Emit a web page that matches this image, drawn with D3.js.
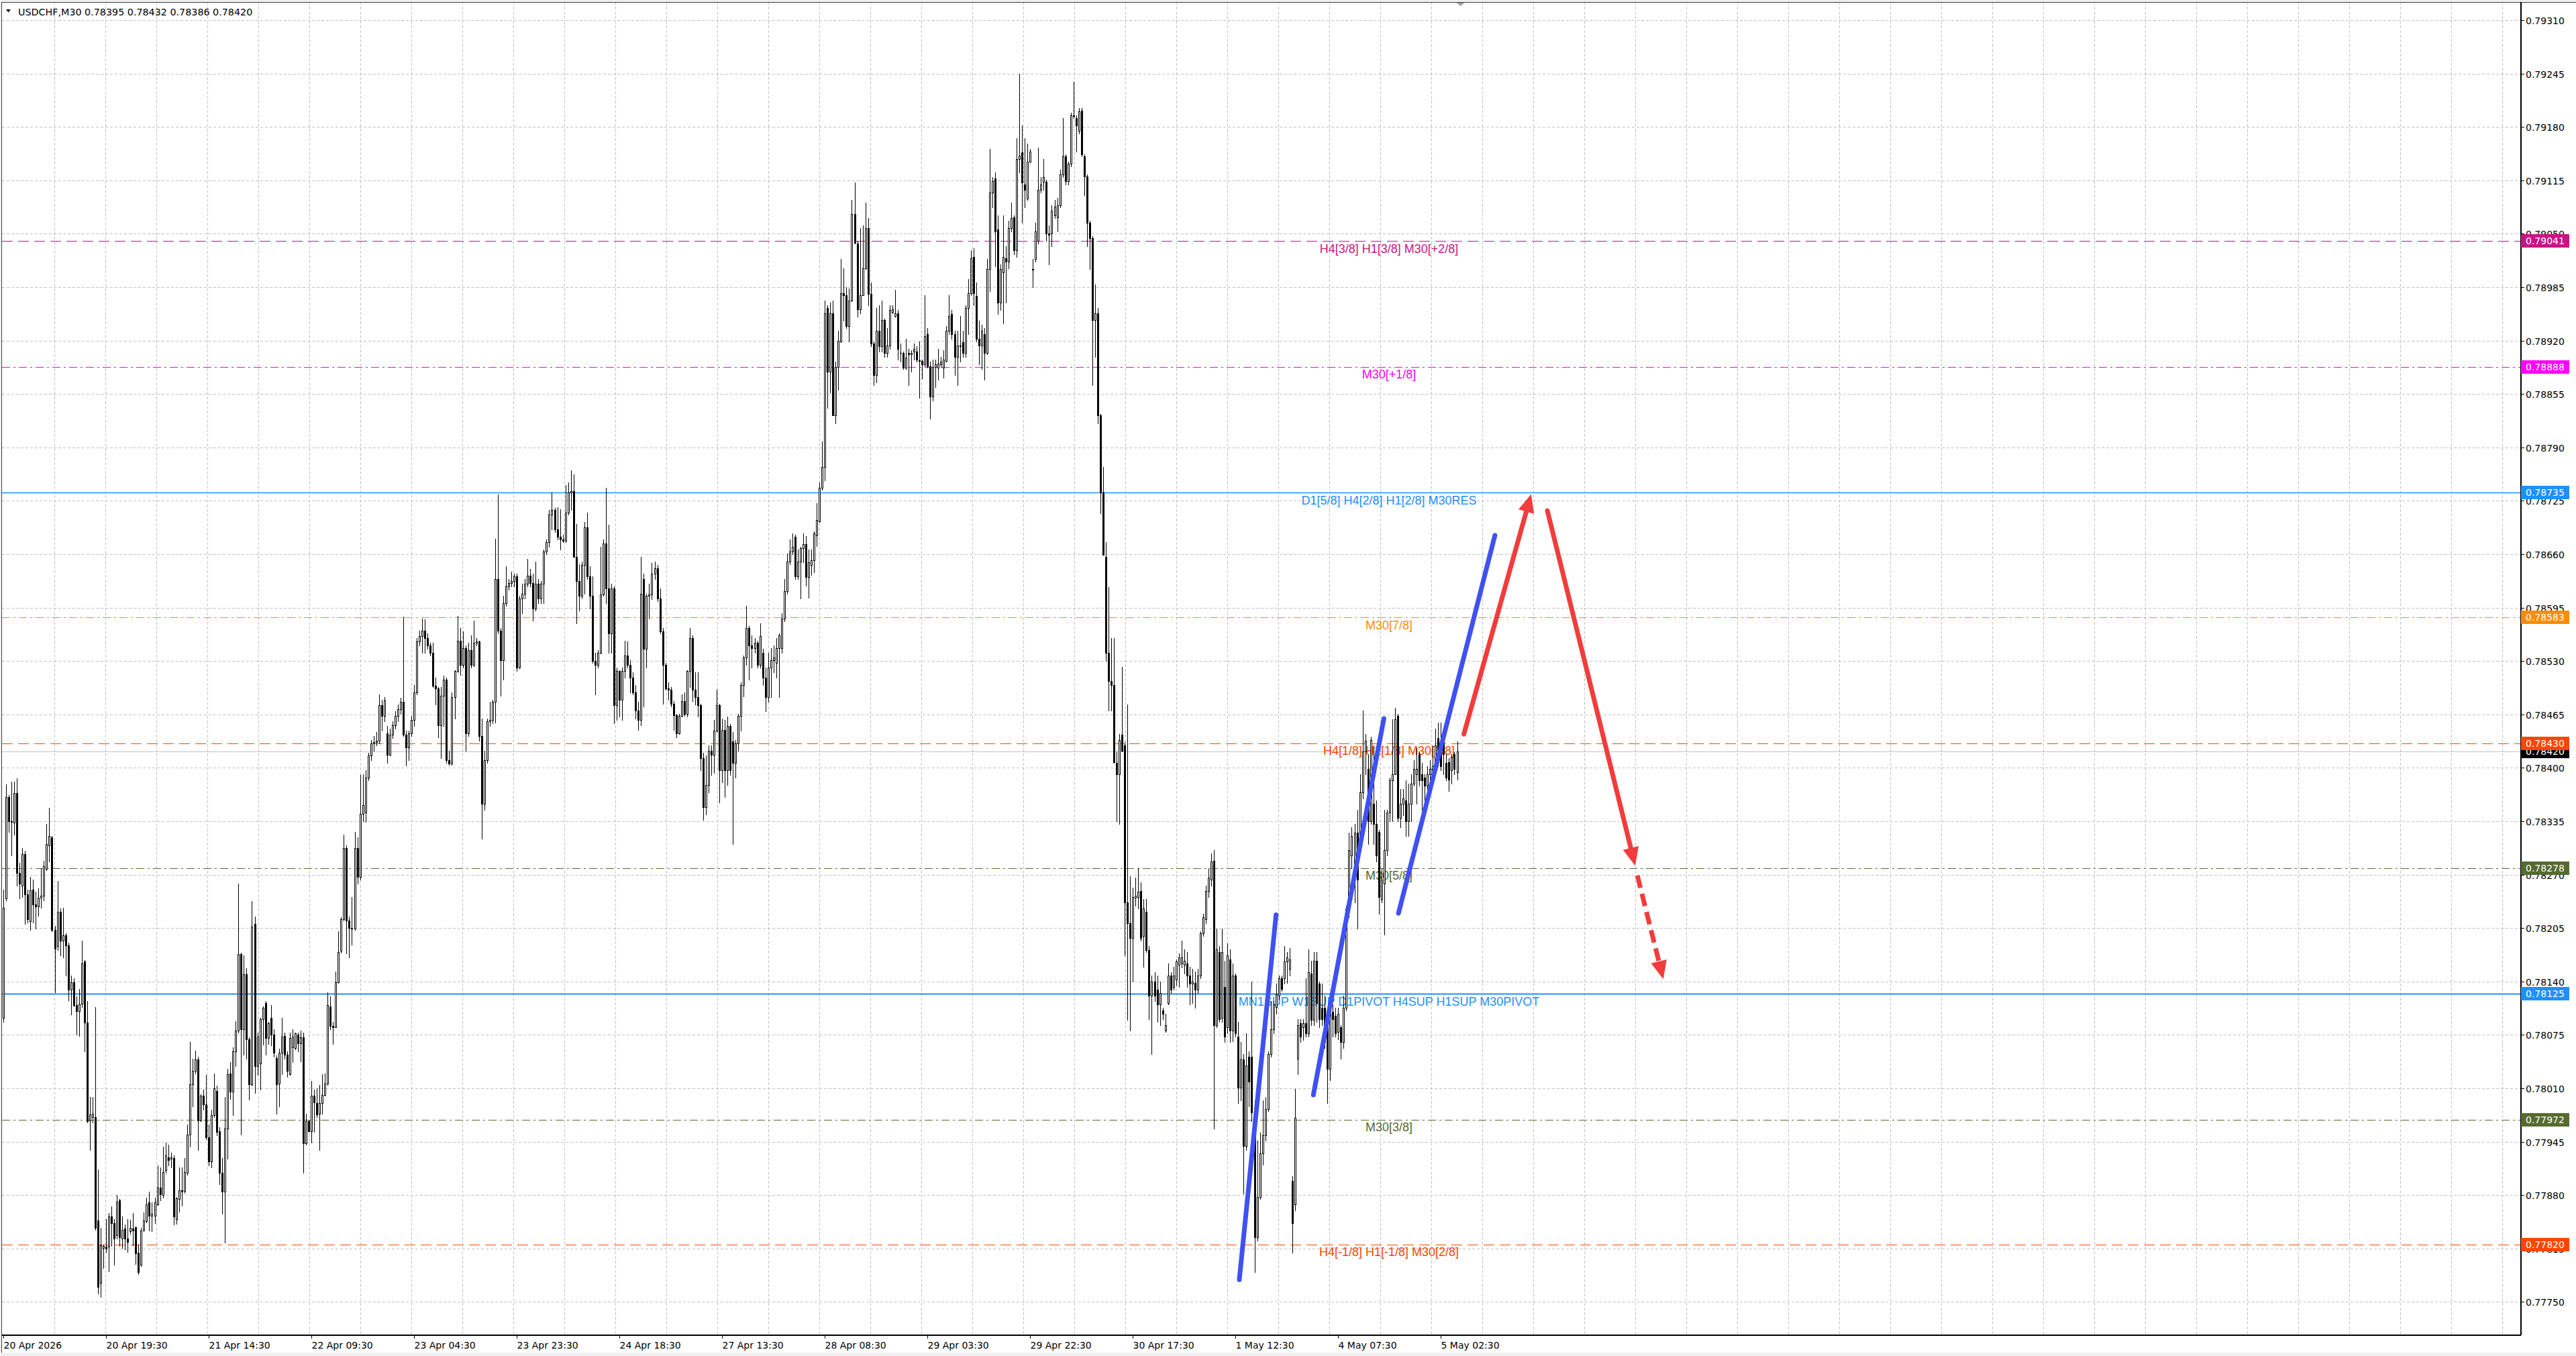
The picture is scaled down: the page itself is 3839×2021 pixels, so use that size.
<!DOCTYPE html>
<html><head><meta charset="utf-8">
<script src="https://cdn.jsdelivr.net/npm/d3@7"></script>
<style>
html,body{margin:0;padding:0;background:#fff;overflow:hidden}
svg{display:block}
</style></head><body>
<svg id="c" width="3839" height="2021"></svg>
<script>
// ---------------- DATA ----------------
const symbolName = "USDCHF,M30";
const open = [
0.78096,0.78241,0.78364,0.78335,0.78333,0.78369,0.78272,0.78257,0.78295,0.78246,
0.78213,0.78252,0.78234,0.78231,0.78242,0.78244,0.78277,0.78306,0.78315,0.78203,
0.78183,0.78225,0.78190,0.78196,0.78184,0.78130,0.78139,0.78111,0.78104,0.78113,
0.78164,0.78090,0.77971,0.77975,0.77975,0.77849,0.77773,0.77816,0.77817,0.77817,
0.77854,0.77846,0.77831,0.77874,0.77827,0.77839,0.77827,0.77836,0.77839,0.77841,
0.77810,0.77795,0.77838,0.77848,0.77871,0.77855,0.77855,0.77869,0.77889,0.77880,
0.77910,0.77926,0.77924,0.77925,0.77851,0.77875,0.77886,0.77885,0.77907,0.77954,
0.78015,0.78031,0.78045,0.77971,0.78001,0.77990,0.77950,0.77921,0.77977,0.78007,
0.77958,0.77907,0.77884,0.77961,0.78028,0.78006,0.78055,0.78080,0.78173,0.78082,
0.78149,0.78070,0.78015,0.78210,0.78037,0.78040,0.78094,0.78114,0.78071,0.78096,
0.78075,0.78047,0.78016,0.78053,0.78074,0.78051,0.78027,0.78060,0.78059,0.78075,
0.78065,0.78072,0.77943,0.77970,0.77958,0.78001,0.77992,0.77979,0.77992,0.78002,
0.78016,0.78110,0.78086,0.78084,0.78139,0.78177,0.78216,0.78302,0.78214,0.78205,
0.78204,0.78302,0.78267,0.78344,0.78346,0.78388,0.78415,0.78430,0.78431,0.78433,
0.78476,0.78463,0.78442,0.78416,0.78440,0.78452,0.78463,0.78471,0.78480,0.78440,
0.78425,0.78442,0.78458,0.78492,0.78554,0.78560,0.78567,0.78558,0.78549,0.78540,
0.78500,0.78497,0.78452,0.78488,0.78507,0.78409,0.78405,0.78486,0.78518,0.78555,
0.78525,0.78546,0.78442,0.78543,0.78525,0.78552,0.78554,0.78439,0.78356,0.78409,
0.78457,0.78458,0.78480,0.78630,0.78567,0.78531,0.78600,0.78621,0.78625,0.78627,
0.78633,0.78522,0.78606,0.78612,0.78624,0.78634,0.78625,0.78594,0.78624,0.78606,
0.78624,0.78663,0.78675,0.78708,0.78714,0.78690,0.78681,0.78678,0.78676,0.78711,
0.78735,0.78737,0.78657,0.78627,0.78609,0.78647,0.78693,0.78633,0.78609,0.78530,
0.78525,0.78540,0.78611,0.78673,0.78618,0.78564,0.78618,0.78476,0.78518,0.78483,
0.78518,0.78537,0.78525,0.78510,0.78492,0.78470,0.78458,0.78630,0.78545,0.78609,
0.78611,0.78636,0.78643,0.78606,0.78566,0.78525,0.78497,0.78495,0.78478,0.78464,
0.78442,0.78463,0.78481,0.78466,0.78518,0.78558,0.78495,0.78486,0.78476,0.78412,
0.78352,0.78379,0.78421,0.78416,0.78445,0.78476,0.78397,0.78446,0.78397,0.78451,
0.78432,0.78406,0.78430,0.78463,0.78501,0.78534,0.78570,0.78549,0.78546,0.78552,
0.78525,0.78540,0.78510,0.78486,0.78522,0.78531,0.78528,0.78546,0.78546,0.78582,
0.78615,0.78651,0.78663,0.78681,0.78633,0.78651,0.78667,0.78672,0.78632,0.78647,
0.78653,0.78683,0.78700,0.78741,0.78766,0.78960,0.78882,0.78953,0.78829,0.78888,
0.78919,0.78978,0.78975,0.78938,0.78969,0.79074,0.79038,0.78958,0.78975,0.79008,
0.79057,0.78977,0.78916,0.78878,0.78932,0.78913,0.78945,0.78905,0.78914,0.78955,
0.78950,0.78953,0.78905,0.78905,0.78887,0.78905,0.78903,0.78907,0.78907,0.78896,
0.78895,0.78891,0.78928,0.78889,0.78852,0.78888,0.78887,0.78891,0.78887,0.78895,
0.78932,0.78952,0.78928,0.78900,0.78914,0.78918,0.78905,0.78960,0.78978,0.79022,
0.78974,0.78922,0.78914,0.78928,0.78905,0.79007,0.79100,0.79117,0.79055,0.78966,
0.79003,0.79020,0.79016,0.79057,0.79070,0.79030,0.79141,0.79149,0.79110,0.79093,
0.79138,0.79007,0.79019,0.79041,0.79103,0.79113,0.79113,0.79050,0.79050,0.79072,
0.79070,0.79085,0.79122,0.79144,0.79114,0.79135,0.79193,0.79191,0.79175,0.79200,
0.79144,0.79120,0.79063,0.79045,0.78945,0.78953,0.78829,0.78735,0.78657,0.78540,
0.78506,0.78501,0.78406,0.78392,0.78440,0.78427,0.78236,0.78211,0.78193,0.78242,
0.78243,0.78250,0.78195,0.78225,0.78178,0.78123,0.78140,0.78130,0.78112,0.78105,
0.78080,0.78114,0.78147,0.78133,0.78142,0.78160,0.78162,0.78160,0.78162,0.78147,
0.78137,0.78138,0.78130,0.78147,0.78199,0.78216,0.78250,0.78264,0.78287,0.78087,
0.78176,0.78096,0.78133,0.78084,0.78167,0.78080,0.78147,0.78073,0.78011,0.78045,
0.77940,0.78048,0.78048,0.77981,0.77829,0.77878,0.77931,0.77953,0.77985,0.78052,
0.78082,0.78109,0.78123,0.78144,0.78144,0.78164,0.78155,0.77897,0.77869,0.78046,
0.78089,0.78084,0.78089,0.78077,0.78150,0.78093,0.78165,0.78137,0.78108,0.78108,
0.78094,0.78034,0.78103,0.78098,0.78079,0.78084,0.78066,0.78108,0.78229,0.78293,
0.78278,0.78321,0.78307,0.78370,0.78420,0.78399,0.78335,0.78356,0.78332,0.78322,
0.78240,0.78259,0.78300,0.78346,0.78385,0.78392,0.78463,0.78339,0.78356,0.78360,
0.78335,0.78356,0.78381,0.78392,0.78417,0.78392,0.78388,0.78378,0.78392,0.78397,
0.78402,0.78436,0.78427,0.78436,0.78406,0.78407,0.78397,0.78417,0.78395
];
const high = [
0.78252,0.78380,0.78367,0.78383,0.78383,0.78387,0.78284,0.78302,0.78299,0.78252,
0.78267,0.78264,0.78249,0.78253,0.78278,0.78287,0.78332,0.78351,0.78317,0.78208,
0.78262,0.78229,0.78230,0.78199,0.78187,0.78147,0.78144,0.78122,0.78131,0.78190,
0.78166,0.78116,0.77999,0.77999,0.78109,0.77911,0.77840,0.77820,0.77851,0.77858,
0.77866,0.77851,0.77880,0.77875,0.77854,0.77844,0.77851,0.77850,0.77858,0.77842,
0.77820,0.77840,0.77859,0.77877,0.77884,0.77871,0.77877,0.77916,0.77914,0.77939,
0.77944,0.77941,0.77932,0.77928,0.77878,0.77914,0.77914,0.77925,0.77966,0.78066,
0.78046,0.78056,0.78048,0.78003,0.78008,0.78026,0.77966,0.77984,0.78028,0.78013,
0.77963,0.77925,0.77999,0.78034,0.78042,0.78060,0.78092,0.78259,0.78175,0.78172,
0.78156,0.78072,0.78238,0.78219,0.78078,0.78096,0.78110,0.78116,0.78091,0.78111,
0.78082,0.78050,0.78058,0.78096,0.78078,0.78055,0.78078,0.78082,0.78078,0.78078,
0.78080,0.78078,0.77979,0.77972,0.78019,0.78008,0.78010,0.78014,0.78027,0.78028,
0.78127,0.78122,0.78091,0.78152,0.78201,0.78218,0.78319,0.78306,0.78219,0.78243,
0.78322,0.78315,0.78391,0.78392,0.78397,0.78418,0.78434,0.78439,0.78444,0.78489,
0.78483,0.78486,0.78451,0.78448,0.78457,0.78469,0.78477,0.78485,0.78584,0.78445,
0.78445,0.78463,0.78501,0.78558,0.78567,0.78582,0.78581,0.78564,0.78552,0.78552,
0.78510,0.78498,0.78498,0.78512,0.78510,0.78421,0.78492,0.78519,0.78585,0.78570,
0.78566,0.78549,0.78552,0.78561,0.78579,0.78558,0.78555,0.78460,0.78421,0.78460,
0.78480,0.78483,0.78679,0.78733,0.78570,0.78609,0.78645,0.78630,0.78639,0.78636,
0.78636,0.78609,0.78624,0.78630,0.78654,0.78642,0.78636,0.78651,0.78630,0.78627,
0.78666,0.78678,0.78714,0.78735,0.78716,0.78717,0.78715,0.78684,0.78744,0.78747,
0.78762,0.78757,0.78697,0.78648,0.78651,0.78699,0.78711,0.78645,0.78633,0.78540,
0.78543,0.78669,0.78678,0.78741,0.78696,0.78624,0.78621,0.78522,0.78519,0.78522,
0.78555,0.78554,0.78531,0.78516,0.78501,0.78480,0.78657,0.78636,0.78612,0.78624,
0.78649,0.78651,0.78647,0.78618,0.78570,0.78528,0.78504,0.78498,0.78481,0.78466,
0.78466,0.78489,0.78492,0.78519,0.78570,0.78561,0.78516,0.78516,0.78478,0.78418,
0.78415,0.78427,0.78427,0.78458,0.78495,0.78478,0.78460,0.78458,0.78462,0.78453,
0.78444,0.78434,0.78466,0.78504,0.78537,0.78597,0.78573,0.78561,0.78558,0.78555,
0.78576,0.78545,0.78522,0.78540,0.78546,0.78549,0.78558,0.78564,0.78588,0.78630,
0.78661,0.78678,0.78685,0.78684,0.78666,0.78669,0.78685,0.78682,0.78666,0.78666,
0.78688,0.78722,0.78747,0.78797,0.78969,0.78963,0.78966,0.78969,0.78894,0.78932,
0.79019,0.79008,0.78985,0.78983,0.79091,0.79112,0.79041,0.79057,0.79060,0.79088,
0.79069,0.78991,0.78919,0.78960,0.78963,0.78969,0.78947,0.78935,0.78963,0.78963,
0.78982,0.78957,0.78916,0.78907,0.78922,0.78910,0.78908,0.78916,0.78913,0.78919,
0.78897,0.78975,0.78935,0.78894,0.78897,0.78897,0.78910,0.78900,0.78908,0.78938,
0.78975,0.78957,0.78932,0.78932,0.78950,0.78932,0.78963,0.78995,0.79030,0.79032,
0.78991,0.78944,0.78939,0.78935,0.79019,0.79153,0.79119,0.79125,0.79072,0.79013,
0.79072,0.79035,0.79066,0.79088,0.79072,0.79166,0.79245,0.79182,0.79166,0.79160,
0.79153,0.79019,0.79063,0.79155,0.79119,0.79141,0.79116,0.79060,0.79085,0.79091,
0.79094,0.79128,0.79191,0.79147,0.79138,0.79197,0.79235,0.79194,0.79203,0.79203,
0.79147,0.79122,0.79066,0.79047,0.78988,0.78960,0.78831,0.78766,0.78675,0.78620,
0.78558,0.78558,0.78420,0.78441,0.78523,0.78431,0.78477,0.78268,0.78254,0.78266,
0.78278,0.78261,0.78240,0.78240,0.78183,0.78147,0.78151,0.78147,0.78140,0.78108,
0.78101,0.78162,0.78151,0.78158,0.78167,0.78174,0.78190,0.78179,0.78176,0.78158,
0.78155,0.78152,0.78155,0.78201,0.78222,0.78257,0.78278,0.78296,0.78300,0.78204,
0.78183,0.78204,0.78165,0.78186,0.78179,0.78162,0.78150,0.78091,0.78066,0.78052,
0.78077,0.78055,0.78140,0.77995,0.77946,0.77956,0.77995,0.77999,0.78055,0.78116,
0.78116,0.78137,0.78147,0.78147,0.78183,0.78176,0.78181,0.77903,0.78009,0.78094,
0.78094,0.78094,0.78144,0.78179,0.78165,0.78176,0.78176,0.78140,0.78137,0.78123,
0.78101,0.78108,0.78112,0.78108,0.78108,0.78087,0.78123,0.78232,0.78321,0.78328,
0.78332,0.78349,0.78392,0.78470,0.78441,0.78417,0.78438,0.78427,0.78360,0.78324,
0.78278,0.78349,0.78349,0.78388,0.78459,0.78473,0.78466,0.78374,0.78374,0.78385,
0.78381,0.78392,0.78409,0.78424,0.78420,0.78406,0.78392,0.78402,0.78409,0.78427,
0.78448,0.78455,0.78455,0.78445,0.78417,0.78412,0.78417,0.78419,0.78432
];
const low = [
0.78091,0.78239,0.78322,0.78293,0.78319,0.78257,0.78241,0.78243,0.78210,0.78212,
0.78203,0.78212,0.78204,0.78220,0.78230,0.78239,0.78275,0.78286,0.78201,0.78127,
0.78178,0.78172,0.78169,0.78147,0.78117,0.78100,0.78110,0.78075,0.78074,0.78109,
0.78055,0.77968,0.77935,0.77968,0.77838,0.77760,0.77756,0.77791,0.77811,0.77787,
0.77818,0.77795,0.77827,0.77818,0.77816,0.77814,0.77811,0.77833,0.77819,0.77796,
0.77784,0.77794,0.77836,0.77847,0.77837,0.77836,0.77846,0.77868,0.77874,0.77877,
0.77907,0.77916,0.77914,0.77844,0.77845,0.77860,0.77867,0.77883,0.77905,0.77939,
0.77988,0.78028,0.77935,0.77970,0.77984,0.77948,0.77916,0.77914,0.77975,0.77953,
0.77893,0.77857,0.77822,0.77924,0.77997,0.77977,0.78037,0.78078,0.77954,0.78051,
0.78046,0.77996,0.78013,0.78004,0.78026,0.78008,0.78063,0.78051,0.78064,0.78062,
0.78048,0.77979,0.77988,0.78027,0.78046,0.78024,0.78026,0.78042,0.78057,0.78055,
0.78043,0.77907,0.77941,0.77957,0.77944,0.77957,0.77975,0.77935,0.77979,0.78001,
0.78014,0.78082,0.78064,0.78084,0.78138,0.78175,0.78214,0.78174,0.78169,0.78185,
0.78203,0.78259,0.78264,0.78335,0.78334,0.78385,0.78409,0.78421,0.78427,0.78430,
0.78445,0.78457,0.78406,0.78415,0.78436,0.78448,0.78457,0.78466,0.78439,0.78403,
0.78409,0.78439,0.78451,0.78489,0.78549,0.78540,0.78540,0.78545,0.78537,0.78498,
0.78477,0.78437,0.78412,0.78451,0.78406,0.78404,0.78404,0.78460,0.78516,0.78513,
0.78522,0.78421,0.78439,0.78522,0.78524,0.78549,0.78433,0.78314,0.78349,0.78406,
0.78451,0.78454,0.78455,0.78564,0.78488,0.78507,0.78597,0.78617,0.78621,0.78621,
0.78518,0.78521,0.78588,0.78606,0.78621,0.78621,0.78579,0.78591,0.78600,0.78600,
0.78600,0.78660,0.78669,0.78690,0.78687,0.78678,0.78666,0.78675,0.78675,0.78708,
0.78714,0.78657,0.78576,0.78591,0.78606,0.78612,0.78630,0.78594,0.78528,0.78489,
0.78522,0.78539,0.78609,0.78600,0.78540,0.78540,0.78454,0.78458,0.78462,0.78458,
0.78510,0.78522,0.78492,0.78489,0.78460,0.78446,0.78452,0.78475,0.78522,0.78582,
0.78605,0.78630,0.78603,0.78564,0.78478,0.78495,0.78483,0.78475,0.78446,0.78437,
0.78441,0.78462,0.78463,0.78462,0.78498,0.78481,0.78477,0.78462,0.78397,0.78337,
0.78343,0.78370,0.78391,0.78394,0.78444,0.78358,0.78382,0.78364,0.78379,0.78391,
0.78307,0.78388,0.78421,0.78445,0.78487,0.78525,0.78507,0.78522,0.78540,0.78522,
0.78522,0.78501,0.78469,0.78480,0.78486,0.78516,0.78510,0.78486,0.78540,0.78578,
0.78612,0.78648,0.78660,0.78630,0.78630,0.78606,0.78650,0.78622,0.78607,0.78635,
0.78638,0.78670,0.78699,0.78738,0.78750,0.78838,0.78857,0.78829,0.78819,0.78860,
0.78918,0.78944,0.78935,0.78919,0.78968,0.79038,0.78949,0.78953,0.78975,0.79007,
0.78963,0.78913,0.78866,0.78869,0.78907,0.78907,0.78900,0.78900,0.78910,0.78953,
0.78949,0.78897,0.78894,0.78885,0.78885,0.78866,0.78882,0.78897,0.78894,0.78850,
0.78874,0.78889,0.78887,0.78825,0.78847,0.78863,0.78872,0.78888,0.78875,0.78894,
0.78928,0.78922,0.78878,0.78866,0.78894,0.78900,0.78900,0.78928,0.78975,0.78963,
0.78919,0.78891,0.78885,0.78872,0.78903,0.78980,0.79082,0.79010,0.78952,0.78957,
0.78941,0.78966,0.79008,0.79053,0.79025,0.79022,0.79125,0.79063,0.79082,0.79091,
0.79137,0.78985,0.79016,0.79038,0.79100,0.79103,0.79041,0.79013,0.79035,0.79069,
0.79053,0.79082,0.79119,0.79110,0.79110,0.79132,0.79191,0.79150,0.79172,0.79144,
0.79097,0.79035,0.79007,0.78866,0.78900,0.78819,0.78710,0.78659,0.78530,0.78470,
0.78470,0.78406,0.78335,0.78332,0.78420,0.78172,0.78093,0.78080,0.78140,0.78232,
0.78229,0.78190,0.78158,0.78176,0.78094,0.78052,0.78116,0.78091,0.78087,0.78094,
0.78079,0.78112,0.78126,0.78130,0.78135,0.78133,0.78157,0.78150,0.78133,0.78112,
0.78114,0.78108,0.78126,0.78144,0.78195,0.78211,0.78243,0.78257,0.77961,0.78084,
0.78091,0.78091,0.78066,0.78077,0.78066,0.78067,0.78073,0.77992,0.77995,0.77882,
0.77935,0.77988,0.77970,0.77786,0.77825,0.77875,0.77917,0.77946,0.77982,0.78048,
0.78077,0.78101,0.78119,0.78128,0.78137,0.78138,0.78147,0.77810,0.77861,0.78027,
0.78066,0.78069,0.78073,0.78073,0.78087,0.78087,0.78091,0.78084,0.78087,0.78059,
0.77992,0.78020,0.78073,0.78073,0.78070,0.78046,0.78059,0.78105,0.78218,0.78278,
0.78236,0.78204,0.78300,0.78363,0.78392,0.78307,0.78332,0.78307,0.78286,0.78222,
0.78236,0.78197,0.78293,0.78335,0.78335,0.78392,0.78335,0.78328,0.78342,0.78317,
0.78317,0.78335,0.78378,0.78356,0.78378,0.78349,0.78356,0.78374,0.78386,0.78392,
0.78399,0.78402,0.78397,0.78392,0.78385,0.78372,0.78381,0.78392,0.78386
];
const close = [
0.78230,0.78364,0.78335,0.78334,0.78369,0.78272,0.78259,0.78295,0.78246,0.78216,
0.78251,0.78234,0.78231,0.78242,0.78244,0.78280,0.78307,0.78317,0.78203,0.78180,
0.78225,0.78190,0.78196,0.78184,0.78130,0.78139,0.78111,0.78104,0.78113,0.78162,
0.78090,0.77970,0.77978,0.77979,0.77840,0.77768,0.77819,0.77818,0.77815,0.77854,
0.77846,0.77827,0.77872,0.77829,0.77838,0.77827,0.77823,0.77840,0.77837,0.77809,
0.77786,0.77837,0.77849,0.77869,0.77855,0.77857,0.77871,0.77889,0.77881,0.77908,
0.77928,0.77923,0.77926,0.77854,0.77876,0.77886,0.77884,0.77908,0.77954,0.78015,
0.78031,0.78045,0.77971,0.78001,0.77990,0.77950,0.77921,0.77977,0.78010,0.77957,
0.77907,0.77884,0.77961,0.78027,0.78006,0.78055,0.78080,0.78173,0.78082,0.78149,
0.78070,0.78015,0.78207,0.78037,0.78073,0.78094,0.78108,0.78071,0.78089,0.78075,
0.78053,0.78015,0.78053,0.78073,0.78051,0.78031,0.78071,0.78073,0.78077,0.78065,
0.78072,0.77943,0.77970,0.77958,0.78001,0.77993,0.77978,0.77992,0.78002,0.78016,
0.78111,0.78086,0.78084,0.78139,0.78176,0.78216,0.78302,0.78214,0.78205,0.78204,
0.78302,0.78267,0.78344,0.78355,0.78388,0.78415,0.78430,0.78431,0.78433,0.78476,
0.78463,0.78482,0.78416,0.78440,0.78452,0.78463,0.78471,0.78480,0.78440,0.78425,
0.78442,0.78458,0.78492,0.78554,0.78560,0.78567,0.78558,0.78549,0.78540,0.78500,
0.78497,0.78452,0.78488,0.78507,0.78409,0.78405,0.78486,0.78518,0.78555,0.78525,
0.78546,0.78442,0.78543,0.78525,0.78552,0.78554,0.78439,0.78356,0.78409,0.78457,
0.78458,0.78480,0.78630,0.78567,0.78531,0.78600,0.78621,0.78625,0.78627,0.78633,
0.78522,0.78606,0.78612,0.78624,0.78634,0.78625,0.78594,0.78624,0.78606,0.78624,
0.78663,0.78675,0.78708,0.78714,0.78690,0.78681,0.78678,0.78676,0.78711,0.78735,
0.78737,0.78657,0.78627,0.78609,0.78647,0.78693,0.78633,0.78609,0.78530,0.78525,
0.78540,0.78611,0.78673,0.78618,0.78564,0.78618,0.78476,0.78518,0.78483,0.78518,
0.78537,0.78525,0.78510,0.78492,0.78470,0.78458,0.78612,0.78545,0.78609,0.78611,
0.78636,0.78643,0.78606,0.78566,0.78525,0.78497,0.78495,0.78478,0.78464,0.78442,
0.78463,0.78481,0.78466,0.78518,0.78558,0.78495,0.78486,0.78476,0.78412,0.78352,
0.78379,0.78421,0.78416,0.78445,0.78476,0.78397,0.78446,0.78397,0.78451,0.78397,
0.78406,0.78430,0.78463,0.78501,0.78534,0.78570,0.78549,0.78546,0.78552,0.78525,
0.78560,0.78510,0.78486,0.78522,0.78531,0.78534,0.78546,0.78561,0.78582,0.78615,
0.78651,0.78663,0.78669,0.78633,0.78651,0.78667,0.78672,0.78632,0.78650,0.78653,
0.78685,0.78702,0.78741,0.78766,0.78953,0.78882,0.78953,0.78829,0.78888,0.78920,
0.78978,0.78975,0.78938,0.78969,0.79074,0.79039,0.78958,0.78975,0.79008,0.79057,
0.78977,0.78916,0.78878,0.78932,0.78913,0.78945,0.78905,0.78914,0.78957,0.78958,
0.78953,0.78910,0.78905,0.78887,0.78899,0.78903,0.78905,0.78910,0.78897,0.78895,
0.78891,0.78925,0.78889,0.78852,0.78888,0.78891,0.78892,0.78894,0.78897,0.78932,
0.78950,0.78928,0.78900,0.78914,0.78913,0.78905,0.78960,0.78978,0.79020,0.78978,
0.78922,0.78914,0.78932,0.78905,0.79007,0.79100,0.79114,0.79053,0.78966,0.79007,
0.79022,0.79016,0.79057,0.79069,0.79030,0.79141,0.79145,0.79112,0.79103,0.79138,
0.79150,0.79006,0.79053,0.79103,0.79110,0.79119,0.79050,0.79049,0.79078,0.79083,
0.79085,0.79122,0.79144,0.79114,0.79135,0.79194,0.79194,0.79182,0.79199,0.79147,
0.79120,0.79063,0.79045,0.78945,0.78953,0.78829,0.78735,0.78659,0.78540,0.78506,
0.78501,0.78407,0.78392,0.78434,0.78421,0.78236,0.78211,0.78193,0.78243,0.78244,
0.78249,0.78193,0.78229,0.78178,0.78123,0.78140,0.78123,0.78112,0.78126,0.78101,
0.78087,0.78147,0.78130,0.78147,0.78164,0.78169,0.78169,0.78165,0.78147,0.78137,
0.78140,0.78130,0.78147,0.78199,0.78218,0.78250,0.78266,0.78286,0.78087,0.78179,
0.78094,0.78176,0.78073,0.78172,0.78080,0.78147,0.78077,0.78011,0.78045,0.77940,
0.78038,0.78018,0.77981,0.77829,0.77878,0.77931,0.77953,0.77985,0.78052,0.78082,
0.78112,0.78124,0.78144,0.78131,0.78164,0.78169,0.78167,0.77846,0.77974,0.78087,
0.78073,0.78089,0.78077,0.78151,0.78093,0.78165,0.78114,0.78094,0.78094,0.78066,
0.78034,0.78101,0.78094,0.78077,0.78101,0.78066,0.78108,0.78229,0.78300,0.78317,
0.78321,0.78264,0.78370,0.78420,0.78433,0.78335,0.78434,0.78332,0.78293,0.78243,
0.78264,0.78300,0.78346,0.78385,0.78392,0.78459,0.78339,0.78356,0.78363,0.78335,
0.78356,0.78381,0.78399,0.78399,0.78385,0.78385,0.78378,0.78392,0.78399,0.78402,
0.78427,0.78407,0.78402,0.78417,0.78388,0.78386,0.78413,0.78399,0.78420
];

const priceTicks = [0.79310,0.79245,0.79180,0.79115,0.79050,0.78985,0.78920,0.78855,0.78790,0.78725,
  0.78660,0.78595,0.78530,0.78465,0.78400,0.78335,0.78270,0.78205,0.78140,0.78075,
  0.78010,0.77945,0.77880,0.77815,0.77750];
const timeLabels = ["20 Apr 2026","20 Apr 19:30","21 Apr 14:30","22 Apr 09:30","23 Apr 04:30",
  "23 Apr 23:30","24 Apr 18:30","27 Apr 13:30","28 Apr 08:30","29 Apr 03:30","29 Apr 22:30",
  "30 Apr 17:30","1 May 12:30","4 May 07:30","5 May 02:30"];
const timeLabelBars = [0,38,76,114,152,190,228,266,304,342,380,418,456,494,532];

const levelValues = [0.79041,0.78888,0.78735,0.78583,0.78430,0.78278,0.78125,0.77972,0.77820];
const levelNames = ["H4[3/8] H1[3/8] M30[+2/8]","M30[+1/8]","D1[5/8] H4[2/8] H1[2/8] M30RES",
  "M30[7/8]","H4[1/8] H1[1/8] M30[6/8]","M30[5/8]","MN1SUP W1SUP D1PIVOT H4SUP H1SUP M30PIVOT",
  "M30[3/8]","H4[-1/8] H1[-1/8] M30[2/8]"];

// hand-drawn trend lines (bar index, price)
const trendFromBar = [457.4, 484.8, 516.3];
const trendFromPrice = [0.77777, 0.78002, 0.78223];
const trendToBar = [471.0, 510.9, 552.0];
const trendToPrice = [0.78221, 0.78460, 0.78683];
// forecast arrows (bar index, price)
const arrowFromBar = [540.5, 571.4, 604.7];
const arrowFromPrice = [0.78441, 0.78713, 0.78269];
const arrowToBar = [565.4, 603.9, 614.3];
const arrowToPrice = [0.78733, 0.78281, 0.78143];

// ---------------- STYLE ----------------
const levelColors = ["#C71585","#FF00FF","#1E90FF","#FF8C00","#FF4500","#556B2F","#1E90FF","#556B2F","#FF4500"];
const levelDash = ["16,8","12,5,3,5",null,"12,5,3,5","16,8","12,5,3,5",null,"12,5,3,5","16,8"];
const levelWidth = [1,1,1.3,1,1,1,2,1,1];
const arrowDashed = [false,false,true];
const axisFont = "'DejaVu Sans', Verdana, sans-serif";
const labelFont = "'Liberation Sans', Arial, sans-serif";

const W=3839, H=2021;
const plotL=3, plotT=3, plotR=3756, plotB=1989;
const barStep=4.027, bar0X=5;
const labelCenterX = 2070;

const svg = d3.select("#c");
const x = d3.scaleLinear().domain([0,1]).range([bar0X, bar0X+barStep]);
const y = d3.scaleLinear().domain([0.77750,0.79310]).range([1940.4,30]);

// backgrounds
svg.append("rect").attr("width",W).attr("height",H).attr("fill","#F0F0F0");
svg.append("rect").attr("x",2).attr("y",3).attr("width",W-2).attr("height",2013).attr("fill","#fff");

const defs = svg.append("defs");
defs.append("clipPath").attr("id","clip").append("rect")
  .attr("x",plotL).attr("y",plotT).attr("width",plotR-plotL).attr("height",plotB-plotT);

// grid
const grid = svg.append("g").attr("stroke","#C0C0C0").attr("stroke-width",1)
  .attr("stroke-dasharray","4,3").attr("shape-rendering","crispEdges");
priceTicks.forEach(p=>{
  const yy=Math.round(y(p))+0.5;
  grid.append("line").attr("x1",plotL).attr("x2",plotR).attr("y1",yy).attr("y2",yy);
});
for(let gx=5.3+76; gx<plotR; gx+=76){
  const xx=Math.round(gx)+0.5;
  grid.append("line").attr("x1",xx).attr("x2",xx).attr("y1",plotT).attr("y2",plotB);
}

// level lines
const lv = svg.append("g").attr("clip-path","url(#clip)");
levelValues.forEach((v,k)=>{
  const yy=Math.round(y(v))+0.5;
  const ln=lv.append("line").attr("x1",plotL).attr("x2",plotR).attr("y1",yy).attr("y2",yy)
    .attr("stroke",levelColors[k]).attr("stroke-width",levelWidth[k]);
  if(levelDash[k]) ln.attr("stroke-dasharray",levelDash[k]);
});
// current price line
const n = Math.min(open.length,high.length,low.length,close.length);
const lastClose = close[n-1];
lv.append("line").attr("x1",plotL).attr("x2",plotR)
  .attr("y1",Math.round(y(lastClose))+0.5).attr("y2",Math.round(y(lastClose))+0.5)
  .attr("stroke","#C0C0C0").attr("stroke-width",1);

// level labels
levelValues.forEach((v,k)=>{
  lv.append("text").attr("x",labelCenterX).attr("y",y(v)+17.5)
    .attr("text-anchor","middle").attr("font-family",labelFont).attr("font-size",18)
    .attr("fill",levelColors[k]).text(levelNames[k]);
});

// candles
const bars = d3.range(n).map(i=>({i,o:open[i],h:high[i],l:low[i],c:close[i]}));
const gC = svg.append("g").attr("clip-path","url(#clip)").attr("shape-rendering","crispEdges");
gC.selectAll("line.wick").data(bars).join("line").attr("class","wick")
  .attr("x1",d=>Math.round(x(d.i))+0.5).attr("x2",d=>Math.round(x(d.i))+0.5)
  .attr("y1",d=>Math.round(y(d.h))).attr("y2",d=>Math.round(y(d.l))+1)
  .attr("stroke","#000").attr("stroke-width",1);
gC.selectAll("rect.body").data(bars).join("rect").attr("class","body")
  .each(function(d){
    const cx=Math.round(x(d.i));
    const top=Math.round(y(Math.max(d.o,d.c))), bot=Math.round(y(Math.min(d.o,d.c)));
    const r=d3.select(this);
    if(d.c>=d.o){
      r.attr("x",cx-0.5).attr("y",top+0.5).attr("width",2).attr("height",Math.max(bot-top,0.01))
       .attr("fill","#fff").attr("stroke","#000").attr("stroke-width",1);
    } else {
      r.attr("x",cx-1).attr("y",top).attr("width",3).attr("height",Math.max(bot-top+1,1))
       .attr("fill","#000");
    }
  });

// trend lines and arrows
const ann = svg.append("g").attr("clip-path","url(#clip)");
trendFromBar.forEach((b,k)=>{
  ann.append("line").attr("x1",x(b)).attr("y1",y(trendFromPrice[k]))
    .attr("x2",x(trendToBar[k])).attr("y2",y(trendToPrice[k]))
    .attr("stroke","#3F51F2").attr("stroke-width",7).attr("stroke-linecap","round");
});
arrowFromBar.forEach((b,k)=>{
  const x1=x(b), y1=y(arrowFromPrice[k]), x2=x(arrowToBar[k]), y2=y(arrowToPrice[k]);
  const dx=x2-x1, dy=y2-y1, L=Math.hypot(dx,dy), ux=dx/L, uy=dy/L;
  const hl=27, hw=12;
  const bx=x2-ux*hl, by=y2-uy*hl;
  const ln=ann.append("line").attr("x1",x1).attr("y1",y1).attr("x2",bx+ux*3).attr("y2",by+uy*3)
    .attr("stroke","#F23C3C").attr("stroke-width",7);
  if(arrowDashed[k]) ln.attr("stroke-dasharray","19,9").attr("stroke-linecap","butt");
  else ln.attr("stroke-linecap","round");
  ann.append("polygon")
    .attr("points",[[x2,y2],[bx-uy*hw,by+ux*hw],[bx+uy*hw,by-ux*hw]].map(p=>p.join(",")).join(" "))
    .attr("fill","#F23C3C");
});

// frame / axes
const fr = svg.append("g").attr("shape-rendering","crispEdges");
fr.append("line").attr("x1",2).attr("x2",W).attr("y1",3.5).attr("y2",3.5).attr("stroke","#404040").attr("stroke-width",1.5);
fr.append("line").attr("x1",2.5).attr("x2",2.5).attr("y1",3).attr("y2",2016).attr("stroke","#404040").attr("stroke-width",1.5);
fr.append("line").attr("x1",plotR+0.5).attr("x2",plotR+0.5).attr("y1",plotT).attr("y2",plotB+1).attr("stroke","#000").attr("stroke-width",2);
fr.append("line").attr("x1",plotL).attr("x2",plotR+1).attr("y1",plotB+0.5).attr("y2",plotB+0.5).attr("stroke","#000").attr("stroke-width",2);

// price axis
const pa = svg.append("g");
priceTicks.forEach(p=>{
  const yy=Math.round(y(p))+0.5;
  pa.append("line").attr("x1",plotR).attr("x2",plotR+6).attr("y1",yy).attr("y2",yy)
    .attr("stroke","#000").attr("shape-rendering","crispEdges");
  pa.append("text").attr("x",3764).attr("y",yy+5).attr("font-family",axisFont)
    .attr("font-size",14).attr("fill","#000").text(p.toFixed(5));
});
// time axis
const ta = svg.append("g");
timeLabelBars.forEach((b,k)=>{
  const xx=Math.round(x(b))+0.5;
  ta.append("line").attr("x1",xx).attr("x2",xx).attr("y1",plotB).attr("y2",plotB+6)
    .attr("stroke","#000").attr("shape-rendering","crispEdges");
  ta.append("text").attr("x",xx).attr("y",2010).attr("font-family",axisFont)
    .attr("font-size",14).attr("fill","#000").text(timeLabels[k]);
});

// price boxes: current price then levels
function priceBox(v,color){
  const yy=Math.round(y(v));
  pa.append("rect").attr("x",3757).attr("y",yy-10).attr("width",72).attr("height",20).attr("fill",color);
  pa.append("text").attr("x",3764).attr("y",yy+5).attr("font-family",axisFont)
    .attr("font-size",14).attr("fill","#fff").text(v.toFixed(5));
}
priceBox(lastClose,"#000");
levelValues.forEach((v,k)=>priceBox(v,levelColors[k]));

// header
svg.append("polygon").attr("points","9,14 16,14 12.5,18.5").attr("fill","#000");
svg.append("text").attr("x",27).attr("y",23).attr("font-family",axisFont).attr("font-size",14.3)
  .attr("fill","#000")
  .text(`${symbolName}  ${open[n-1].toFixed(5)} ${high[n-1].toFixed(5)} ${low[n-1].toFixed(5)} ${close[n-1].toFixed(5)}`);
// chart shift marker
const sx = x(n-1)+5;
svg.append("polygon").attr("points",`${sx-6},4 ${sx+6},4 ${sx},9`).attr("fill","#A0A0A0");
</script>
</body></html>
